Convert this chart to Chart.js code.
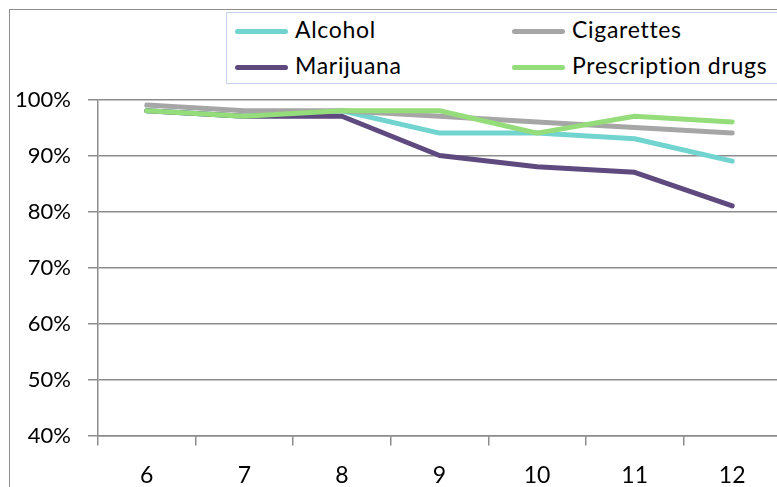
<!DOCTYPE html>
<html>
<head>
<meta charset="utf-8">
<script src="https://cdn.jsdelivr.net/npm/chart.js@4.4.1/dist/chart.umd.min.js"></script>
<style>
    html, body { margin: 0; padding: 0; background: #fff; overflow: hidden; }
    #page { position: relative; width: 777px; height: 487px; overflow: hidden; }
    #frame { position: absolute; left: 9px; top: 9px; width: 800px; height: 500px;
             border-left: 1.5px solid #8c8c8c; border-top: 1.5px solid #8c8c8c; }
    #wrap { position: absolute; left: 0; top: 0; width: 782px; height: 487px; }
    #legend { position: absolute; left: 226px; top: 12px; width: 600px; height: 70px;
              border: 1.5px solid #c3d3ee; background: #fff; font-family: Lato, sans-serif;
              font-size: 23px; letter-spacing: 0.7px; color: #000; }
    .item { position: absolute; height: 28px; line-height: 28px; white-space: nowrap; }
    .mark { display: inline-block; width: 53px; height: 5px; border-radius: 3px;
            vertical-align: middle; margin-right: 7px; position: relative; top: -1px; }
</style>
</head>
<body>
<div id="page">
    <div id="frame"></div>
    <div id="wrap"><canvas id="gradeChart"></canvas></div>
    <div id="legend"></div>
</div>
<script>
// grade levels
const grades = ['6', '7', '8', '9', '10', '11', '12'];

// percent of students
const alcohol = [98, 97, 98, 94, 94, 93, 89];
const cigarettes = [99, 98, 98, 97, 96, 95, 94];
const marijuana = [98, 97, 97, 90, 88, 87, 81];
const prescriptionDrugs = [98, 97, 98, 98, 94, 97, 96];

const seriesNames = ['Alcohol', 'Cigarettes', 'Marijuana', 'Prescription drugs'];
const seriesColors = ['#72d4cf', '#a6a6a6', '#5e4a7e', '#95dc7b'];
const yTicks = [40, 50, 60, 70, 80, 90, 100];

const gridColor = '#8c8c8c';

function buildLegend() {
    const box = document.getElementById('legend');
    const spots = [[8, 2], [285, 2], [8, 38], [285, 38]];
    seriesNames.forEach(function(name, i) {
        const item = document.createElement('div');
        item.className = 'item';
        item.style.left = spots[i][0] + 'px';
        item.style.top = spots[i][1] + 'px';
        const mark = document.createElement('span');
        mark.className = 'mark';
        mark.style.background = seriesColors[i];
        item.appendChild(mark);
        item.appendChild(document.createTextNode(name));
        box.appendChild(item);
    });
}

function renderChart() {
    const ctx = document.getElementById('gradeChart').getContext('2d');
    const values = [alcohol, cigarettes, marijuana, prescriptionDrugs];

    new Chart(ctx, {
        type: 'line',
        data: {
            labels: grades,
            datasets: values.map(function(data, i) {
                return {
                    label: seriesNames[i],
                    data: data,
                    borderColor: seriesColors[i],
                    backgroundColor: seriesColors[i],
                    borderWidth: 5,
                    borderCapStyle: 'round',
                    borderJoinStyle: 'round',
                    pointRadius: 0,
                    tension: 0,
                    order: 3 - i // later series on top, like the original
                };
            })
        },
        options: {
            responsive: true,
            maintainAspectRatio: false,
            animation: false,
            layout: {
                padding: { top: 99.5, right: 1, left: 0, bottom: 0 }
            },
            plugins: {
                legend: { display: false },
                tooltip: { enabled: false }
            },
            scales: {
                x: {
                    offset: true,
                    grid: {
                        offset: true,
                        drawOnChartArea: false,
                        drawTicks: true,
                        tickLength: 10,
                        color: gridColor,
                        lineWidth: 1.5
                    },
                    border: { display: true, color: gridColor, width: 1.5 },
                    ticks: {
                        color: '#000',
                        padding: 16,
                        maxRotation: 0,
                        font: { family: 'Lato', size: 23 }
                    },
                    afterFit: function(scale) { scale.height = 51.5; }
                },
                y: {
                    min: 40,
                    max: 100,
                    afterBuildTicks: function(scale) {
                        scale.ticks = yTicks.map(v => ({ value: v }));
                    },
                    grid: {
                        color: gridColor,
                        lineWidth: 1.5,
                        tickLength: 10
                    },
                    border: { display: true, color: gridColor, width: 1.5 },
                    ticks: {
                        color: '#000',
                        padding: 17,
                        font: { family: 'Lato', size: 22 },
                        callback: value => value + '%'
                    },
                    afterFit: function(scale) { scale.width = 98; }
                }
            }
        }
    });
}

buildLegend();
renderChart();
</script>
</body>
</html>
